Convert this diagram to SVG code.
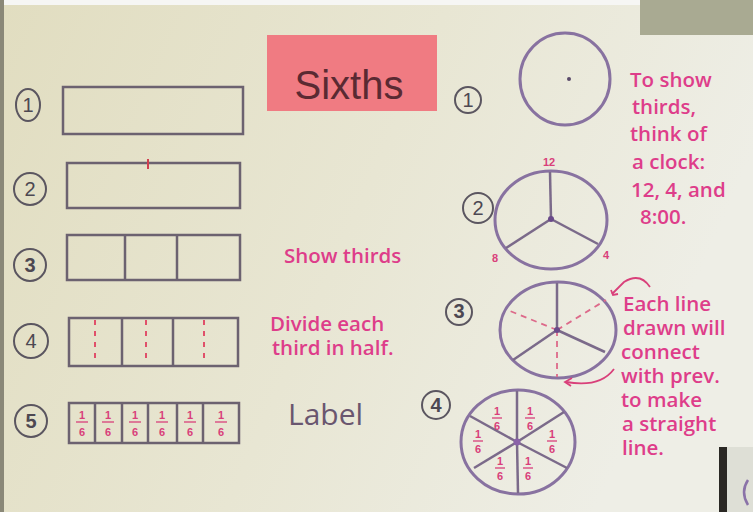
<svg xmlns="http://www.w3.org/2000/svg" width="753" height="512" viewBox="0 0 753 512">
<defs>
<linearGradient id="bg" x1="0" y1="0" x2="1" y2="0.3">
<stop offset="0" stop-color="#e1ddc0"/>
<stop offset="0.55" stop-color="#e8e6d3"/>
<stop offset="1" stop-color="#eeeee6"/>
</linearGradient>
<style>
.box{fill:none;stroke:#6c6270;stroke-width:2.5}
.div{stroke:#6c6270;stroke-width:2.5}
.dash{stroke:#e0506a;stroke-width:2;stroke-dasharray:5 6}
.num{fill:none;stroke:#5b5660;stroke-width:2}
.numt{font-family:"Liberation Sans",sans-serif;font-size:20px;fill:#4d4852;text-anchor:middle}
.pink{font-family:"Open Sans","Liberation Sans",sans-serif;font-size:20.5px;fill:#de3d8a;font-weight:600}
.frac{font-family:"Liberation Sans",sans-serif;font-size:11px;fill:#d9407a;text-anchor:middle;font-weight:bold}
.fbar{stroke:#d9407a;stroke-width:1.3}
.pc{fill:none;stroke:#8872a0;stroke-width:3}
.sp{stroke:#7b6a8a;stroke-width:2.5}
.pdash{stroke:#dd6a8a;stroke-width:1.8;stroke-dasharray:6 5}
.arr{fill:none;stroke:#d9407a;stroke-width:1.8}
</style>
</defs>
<rect x="0" y="0" width="753" height="512" fill="url(#bg)"/>
<rect x="0" y="0" width="753" height="5" fill="#f6f6f4"/>
<rect x="0" y="0" width="4" height="512" fill="#8a8878"/>
<rect x="640" y="0" width="113" height="35" fill="#a9aa92"/>
<rect x="727" y="447" width="26" height="65" fill="#dedfd6"/>
<rect x="719" y="447" width="8" height="65" fill="#2a2824"/>
<path d="M748,480 Q740,492 748,505" fill="none" stroke="#8a72a8" stroke-width="2.5"/>

<g id="title">
<rect x="267" y="35" width="170" height="76" fill="#f07b82"/>
<text x="349" y="99" font-family="Liberation Sans,sans-serif" font-size="40" fill="#5a2a32" text-anchor="middle">Sixths</text>
</g>

<g id="step1-bar">
<ellipse class="num" cx="28" cy="105" rx="12" ry="16"/>
<text class="numt" x="28" y="112">1</text>
<rect class="box" x="63" y="87" width="180" height="47"/>
</g>
<g id="step2-bar">
<circle class="num" cx="30" cy="189" r="16"/>
<text class="numt" x="30" y="196">2</text>
<rect class="box" x="67" y="163" width="173" height="45"/>
<line x1="148" y1="159" x2="148" y2="169" stroke="#d04050" stroke-width="2"/>
</g>
<g id="step3-bar">
<circle class="num" cx="30" cy="265" r="16"/>
<text class="numt" x="30" y="272" font-weight="bold">3</text>
<rect class="box" x="67" y="235" width="173" height="45"/>
<line class="div" x1="125" y1="235" x2="125" y2="280"/>
<line class="div" x1="177" y1="235" x2="177" y2="280"/>
</g>
<g id="step4-bar">
<circle class="num" cx="31" cy="341" r="17"/>
<text class="numt" x="31" y="348">4</text>
<rect class="box" x="69" y="318" width="169" height="48"/>
<line class="div" x1="122" y1="318" x2="122" y2="366"/>
<line class="div" x1="173" y1="318" x2="173" y2="366"/>
<line class="dash" x1="95" y1="320" x2="95" y2="364"/>
<line class="dash" x1="146" y1="320" x2="146" y2="364"/>
<line class="dash" x1="204" y1="320" x2="204" y2="364"/>
</g>
<g id="step5-bar">
<circle class="num" cx="31" cy="421" r="16" stroke-width="2.5"/>
<text class="numt" x="31" y="428" font-weight="bold">5</text>
<rect class="box" x="69" y="403" width="170" height="40"/>
<line class="div" x1="95" y1="403" x2="95" y2="443"/>
<line class="div" x1="122" y1="403" x2="122" y2="443"/>
<line class="div" x1="148" y1="403" x2="148" y2="443"/>
<line class="div" x1="177" y1="403" x2="177" y2="443"/>
<line class="div" x1="203" y1="403" x2="203" y2="443"/>
<g font-size="13">
<text class="frac" x="82" y="419" font-size="13">1</text><line class="fbar" x1="76" y1="422" x2="88" y2="422"/><text class="frac" x="82" y="436" font-size="13">6</text>
<text class="frac" x="108" y="419" font-size="13">1</text><line class="fbar" x1="102" y1="422" x2="114" y2="422"/><text class="frac" x="108" y="436" font-size="13">6</text>
<text class="frac" x="135" y="419" font-size="13">1</text><line class="fbar" x1="129" y1="422" x2="141" y2="422"/><text class="frac" x="135" y="436" font-size="13">6</text>
<text class="frac" x="162" y="419" font-size="13">1</text><line class="fbar" x1="156" y1="422" x2="168" y2="422"/><text class="frac" x="162" y="436" font-size="13">6</text>
<text class="frac" x="190" y="419" font-size="13">1</text><line class="fbar" x1="184" y1="422" x2="196" y2="422"/><text class="frac" x="190" y="436" font-size="13">6</text>
<text class="frac" x="221" y="419" font-size="13">1</text><line class="fbar" x1="215" y1="422" x2="227" y2="422"/><text class="frac" x="221" y="436" font-size="13">6</text>
</g>
</g>

<g id="left-notes">
<text class="pink" x="284" y="263" font-size="22">Show thirds</text>
<text class="pink" x="270" y="331" font-size="20">Divide each</text>
<text class="pink" x="272" y="355" font-size="20">third in half.</text>
<text x="288" y="425" font-family="Open Sans,Liberation Sans,sans-serif" font-size="30" fill="#6a566f">Label</text>
</g>

<g id="circle1">
<circle class="num" cx="468" cy="100" r="13"/>
<text class="numt" x="468" y="107" font-size="18">1</text>
<ellipse class="pc" cx="565" cy="79" rx="45" ry="46"/>
<circle cx="569" cy="79" r="2" fill="#5a4a6a"/>
</g>

<g id="circle2">
<circle class="num" cx="478" cy="208" r="15"/>
<text class="numt" x="478" y="215">2</text>
<ellipse class="pc" cx="551" cy="220" rx="56" ry="49"/>
<line class="sp" x1="551" y1="219" x2="550" y2="172"/>
<line class="sp" x1="551" y1="219" x2="598" y2="244"/>
<line class="sp" x1="551" y1="219" x2="506" y2="248"/>
<circle cx="551" cy="219" r="3" fill="#6a4a8a"/>
<text class="frac" x="549" y="166" font-size="13">12</text>
<text class="frac" x="606" y="259" font-size="16">4</text>
<text class="frac" x="495" y="262" font-size="15">8</text>
</g>

<g id="circle3">
<circle class="num" cx="459" cy="312" r="13" stroke-width="2.5"/>
<text class="numt" x="459" y="318" font-size="18" font-weight="bold">3</text>
<ellipse class="pc" cx="558" cy="330" rx="58" ry="48"/>
<line class="pdash" x1="557" y1="330" x2="510" y2="311"/>
<line class="pdash" x1="557" y1="330" x2="606" y2="300"/>
<line class="pdash" x1="557" y1="330" x2="557" y2="377"/>
<line class="sp" x1="557" y1="330" x2="557" y2="283"/>
<line class="sp" x1="557" y1="330" x2="513" y2="360"/>
<line class="sp" x1="557" y1="330" x2="605" y2="352" stroke-width="4"/>
<circle cx="557" cy="330" r="3" fill="#6a4a8a"/>
</g>

<g id="circle4">
<circle class="num" cx="436" cy="405" r="14" stroke="#2a2430"/>
<text class="numt" x="436" y="412" fill="#3a2a50" font-weight="bold">4</text>
<ellipse class="pc" cx="518" cy="442" rx="57" ry="52"/>
<line class="sp" x1="517" y1="442" x2="517" y2="391"/>
<line class="sp" x1="517" y1="442" x2="518" y2="493"/>
<line class="sp" x1="517" y1="442" x2="470" y2="416"/>
<line class="sp" x1="517" y1="442" x2="564" y2="412"/>
<line class="sp" x1="517" y1="442" x2="474" y2="468"/>
<line class="sp" x1="517" y1="442" x2="567" y2="468" stroke-width="4"/>
<circle cx="517" cy="442" r="3.5" fill="#8a62a8"/>
<text class="frac" x="497" y="415">1</text><line class="fbar" x1="492" y1="418" x2="502" y2="418"/><text class="frac" x="497" y="430">6</text>
<text class="frac" x="530" y="415">1</text><line class="fbar" x1="525" y1="418" x2="535" y2="418"/><text class="frac" x="530" y="430">6</text>
<text class="frac" x="552" y="438">1</text><line class="fbar" x1="547" y1="441" x2="557" y2="441"/><text class="frac" x="552" y="453">6</text>
<text class="frac" x="478" y="438">1</text><line class="fbar" x1="473" y1="441" x2="483" y2="441"/><text class="frac" x="478" y="453">6</text>
<text class="frac" x="500" y="465">1</text><line class="fbar" x1="495" y1="468" x2="505" y2="468"/><text class="frac" x="500" y="480">6</text>
<text class="frac" x="528" y="465">1</text><line class="fbar" x1="523" y1="468" x2="533" y2="468"/><text class="frac" x="528" y="480">6</text>
</g>

<g id="clock-note">
<text class="pink" x="630" y="87">To show</text>
<text class="pink" x="632" y="114">thirds,</text>
<text class="pink" x="630" y="141">think of</text>
<text class="pink" x="632" y="169">a clock:</text>
<text class="pink" x="631" y="197">12, 4, and</text>
<text class="pink" x="640" y="224">8:00.</text>
</g>

<g id="line-note">
<text class="pink" x="623" y="311">Each line</text>
<text class="pink" x="623" y="335">drawn will</text>
<text class="pink" x="621" y="359">connect</text>
<text class="pink" x="621" y="383">with prev.</text>
<text class="pink" x="621" y="407">to make</text>
<text class="pink" x="622" y="431">a straight</text>
<text class="pink" x="622" y="455">line.</text>
</g>

<g id="connectors">
<path class="arr" d="M650,287 Q640,272 624,282 L612,294"/>
<path class="arr" d="M611,290 L613,295 L618,294"/>
<path class="arr" d="M614,369 Q600,388 566,382"/>
<path class="arr" d="M572,378 L565,382 L571,386"/>
</g>
</svg>
